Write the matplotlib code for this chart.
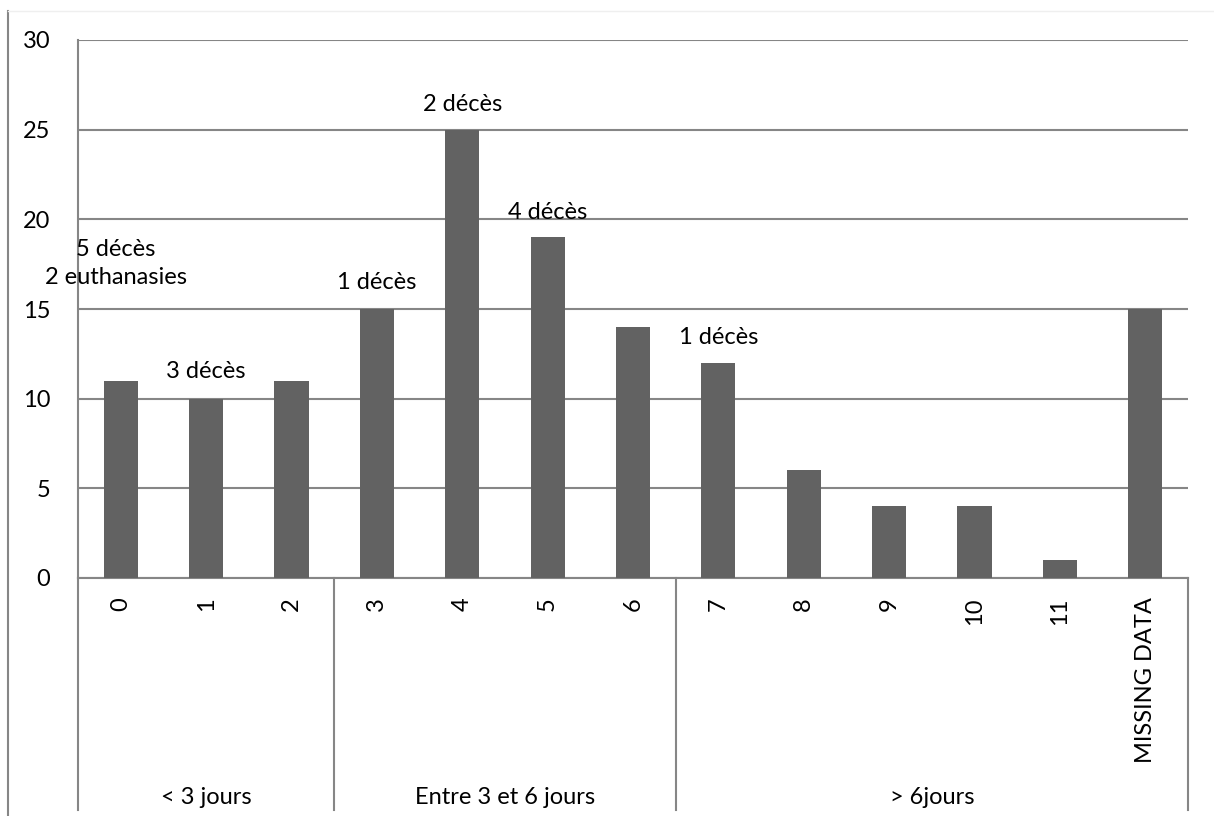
import matplotlib
matplotlib.use("Agg")
import matplotlib.pyplot as plt
import matplotlib.transforms as mtransforms
from matplotlib.lines import Line2D

plt.rcParams['font.family'] = ['Lato', 'DejaVu Sans']

categories = ['0', '1', '2', '3', '4', '5', '6', '7', '8', '9', '10', '11', 'MISSING DATA']
counts = [11, 10, 11, 15, 25, 19, 14, 12, 6, 4, 4, 1, 15]
groups = ['< 3 jours', 'Entre 3 et 6 jours', '> 6jours']
group_sizes = [3, 4, 6]

# annotation: bar index, text, y position in data units
note_idx = [0, 1, 3, 4, 5, 7]
note_txt = ['5 décès\n2 euthanasies', '3 décès', '1 décès', '2 décès', '4 décès', '1 décès']
note_y = [17.55, 11.5, 16.45, 26.4, 20.4, 13.4]

GRID_COL = '#868686'
BAR_COL = '#626262'
FS = 17

fig = plt.figure(figsize=(12.14, 8.16), dpi=100)
ax = fig.add_axes([78 / 1214, (816 - 578) / 816, (1188 - 78) / 1214, (578 - 40) / 816])

x = list(range(len(categories)))
ax.bar(x, counts, width=0.4, color=BAR_COL, zorder=3)

ax.set_xlim(-0.5, len(categories) - 0.5)
ax.set_ylim(0, 30)
ax.set_yticks(range(0, 31, 5))
ax.yaxis.grid(True, color=GRID_COL, linewidth=1.5, zorder=0)
ax.tick_params(axis='y', length=0, pad=20, labelsize=FS)
ax.set_xticks(x)
ax.set_xticklabels(categories, rotation=90, fontsize=FS, va='top')
ax.tick_params(axis='x', length=0, pad=14)

for side in ['top', 'right']:
    ax.spines[side].set_visible(False)
for side in ['left', 'bottom']:
    ax.spines[side].set_color(GRID_COL)
    ax.spines[side].set_linewidth(1.5)

for i, t, yv in zip(note_idx, note_txt, note_y):
    ax.text(i - 0.06 if '\n' in t else i, yv, t, ha='center', va='center',
            fontsize=FS, linespacing=1.4, zorder=4)

# group axis below the categories
trans = mtransforms.blended_transform_factory(ax.transData, ax.transAxes)
bottom = (578 - 810) / 538
label_y = (578 - 797) / 538
start = -0.5
bounds = [start]
for g, n in zip(groups, group_sizes):
    end = start + n
    ax.text((start + end) / 2, label_y, g, transform=trans, ha='center', va='center', fontsize=FS)
    bounds.append(end)
    start = end
for b in bounds:
    ax.plot([b, b], [0, bottom], transform=trans, color=GRID_COL, linewidth=1.5, clip_on=False)

# outer chart frame (left and top edges visible)
fig.add_artist(Line2D([8 / 1214, 8 / 1214], [0, (816 - 11) / 816], transform=fig.transFigure,
                      color=GRID_COL, linewidth=1.5))
fig.add_artist(Line2D([8 / 1214, 1], [(816 - 11) / 816, (816 - 11) / 816], transform=fig.transFigure,
                      color='#efefef', linewidth=1))

fig.savefig('out.png', dpi=100)
